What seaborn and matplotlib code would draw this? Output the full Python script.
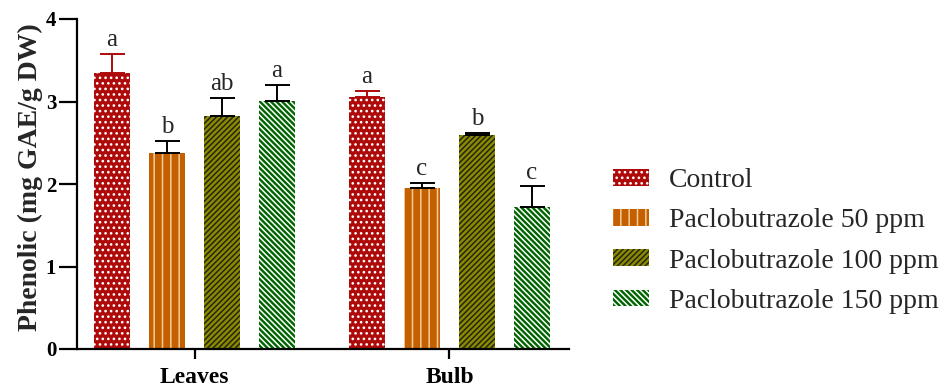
import numpy as np
import pandas as pd
import matplotlib
matplotlib.use("Agg")
import matplotlib.pyplot as plt
from matplotlib.patches import Patch
from matplotlib.container import BarContainer
import seaborn as sns

# Data: total phenolic content (mean and SE) per organ and treatment
organs = ["Leaves", "Bulb"]
treatments = ["Control", "Paclobutrazole 50 ppm",
              "Paclobutrazole 100 ppm", "Paclobutrazole 150 ppm"]
leaves_mean = [3.35, 2.37, 2.82, 3.01]
bulb_mean = [3.06, 1.95, 2.59, 1.72]
leaves_se = [0.23, 0.15, 0.22, 0.19]
bulb_se = [0.07, 0.06, 0.03, 0.25]
leaves_letters = ["a", "b", "ab", "a"]
bulb_letters = ["a", "c", "b", "c"]

colors = ["#AE0A0A", "#C46000", "#8A8A04", "#006400"]
hatches = ["...", "||", "//////", "\\\\\\\\\\\\"]
hatch_colors = ["white", "#F2CC9A", "#26260E", "white"]
err_colors = ["#AE0A0A", "black", "black", "black"]

sns.set_style("ticks")
plt.rcParams["font.family"] = ["Liberation Serif", "DejaVu Serif"]
plt.rcParams["hatch.linewidth"] = 1.1

df = pd.DataFrame({
    "organ": np.repeat(organs, len(treatments)),
    "treatment": treatments * len(organs),
    "value": leaves_mean + bulb_mean,
})

fig = plt.figure(figsize=(9.48, 3.9), dpi=100)
ax = fig.add_axes([77 / 948, 41 / 390, 492 / 948, 330 / 390])

sns.barplot(data=df, x="organ", y="value", hue="treatment",
            order=organs, hue_order=treatments, palette=colors,
            saturation=1, width=0.863, gap=0.35, errorbar=None,
            legend=False, linewidth=0, ax=ax)

means = [leaves_mean, bulb_mean]
ses = [leaves_se, bulb_se]
letters = [leaves_letters, bulb_letters]

bar_containers = [c for c in ax.containers if isinstance(c, BarContainer)]
for i, cont in enumerate(bar_containers):
    xs, ys, es, ls = [], [], [], []
    for j, bar in enumerate(cont.patches):
        bar.set_hatch(hatches[i])
        bar.set_edgecolor(hatch_colors[i])
        bar.set_linewidth(0)
        xs.append(bar.get_x() + bar.get_width() / 2)
        ys.append(means[j][i])
        es.append(ses[j][i])
        ls.append(letters[j][i])
    ax.errorbar(xs, ys, yerr=[np.zeros(len(es)), es], fmt="none",
                ecolor=err_colors[i], elinewidth=1.4, capsize=9,
                capthick=1.4, zorder=1)
    for x, y, e, t in zip(xs, ys, es, ls):
        ax.annotate(t, (x, y + e), xytext=(0, 2), textcoords="offset points",
                    ha="center", va="bottom", fontsize=18)

ax.set_xlim(-0.461, 1.469)
ax.set_ylim(0, 4)
ax.set_yticks([0, 1, 2, 3, 4])
ax.set_xlabel("")
ax.set_ylabel("Phenolic (mg GAE/g DW)", fontsize=20, fontweight="bold")
ax.yaxis.set_label_coords(-0.07, 0.52)
sns.despine(ax=ax)
for s in ["left", "bottom"]:
    ax.spines[s].set_linewidth(1.6)
    ax.spines[s].set_color("black")
ax.tick_params(axis="y", length=13, width=1.6, labelsize=15, pad=2, colors="black")
ax.tick_params(axis="x", length=7, width=1.6, labelsize=17, pad=6, colors="black")
for lab in ax.get_xticklabels() + ax.get_yticklabels():
    lab.set_fontweight("bold")

handles = [Patch(facecolor=c, edgecolor=hc, hatch=h, linewidth=0)
           for c, hc, h in zip(colors, hatch_colors, hatches)]
fig.legend(handles, treatments, loc="center left",
           bbox_to_anchor=(613 / 948, 1 - 241 / 390), frameon=False,
           fontsize=20, handlelength=1.3, handleheight=0.55,
           handletextpad=0.72, labelspacing=0.55, borderpad=0,
           borderaxespad=0)

fig.savefig("out.png", dpi=100)
